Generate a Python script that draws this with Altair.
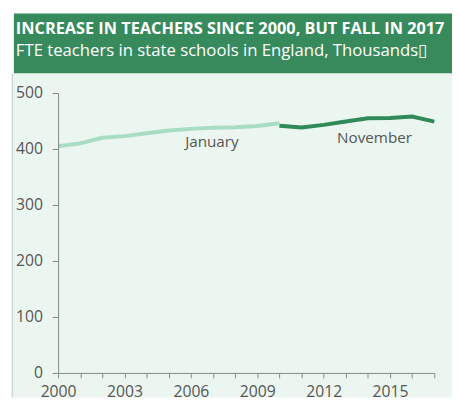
import altair as alt
import pandas as pd

jan_years = [2000, 2001, 2002, 2003, 2004, 2005, 2006, 2007, 2008, 2009, 2010]
jan_values = [405, 410, 420, 423, 428, 433, 436, 438, 439, 441, 446]
nov_years = [2010, 2011, 2012, 2013, 2014, 2015, 2016, 2017]
nov_values = [441.5, 438.5, 443, 449, 455, 455.5, 458, 449]

label_text = ["January", "November"]
label_x = [2006.95, 2014.3]
label_y = [403, 411.5]

x_ticks = list(range(2000, 2018))
y_ticks = [0, 100, 200, 300, 400, 500]

title_text = "INCREASE IN TEACHERS SINCE 2000, BUT FALL IN 2017"
subtitle_text = "FTE teachers in state schools in England, Thousands\u25AF"

LIGHT = "#a8dcc3"
DARK = "#2f8a58"
HEADER = "#378a5c"
BG = "#ecf6f1"
FONT = "Open Sans"

jan = pd.DataFrame({"year": jan_years, "value": jan_values, "series": "January"})
nov = pd.DataFrame({"year": nov_years, "value": nov_values, "series": "November"})
labels = pd.DataFrame({"text": label_text, "year": label_x, "value": label_y})
one = pd.DataFrame({"a": [0]})

xscale = alt.Scale(domain=[2000, 2017], nice=False, zero=False)
yscale = alt.Scale(domain=[0, 500], nice=False)

x_axis = alt.Axis(
    title=None, values=x_ticks,
    labelExpr="(datum.value - 2000) % 3 == 0 ? format(datum.value, 'd') : ''",
    grid=False, tickSize=5, labelPadding=6, labelFontSize=16, labelFont=FONT,
    labelColor="#555555", tickColor="#888888", domainColor="#888888",
    labelFlush=False, labelOverlap=False, zindex=1,
)
y_axis = alt.Axis(
    title=None, values=y_ticks, grid=False, tickSize=6,
    labelPadding=10, labelFontSize=16, labelFont=FONT, labelColor="#555555",
    tickColor="#888888", domainColor="#888888", zindex=1,
)


def xe():
    return alt.X("year:Q", scale=xscale, axis=x_axis)


def ye():
    return alt.Y("value:Q", scale=yscale, axis=y_axis)


bg = alt.Chart(one).mark_rect(color=BG, clip=False).encode(
    x=alt.value(-47), x2=alt.value(401), y=alt.value(-20), y2=alt.value(310)
)
border = alt.Chart(one).mark_rule(color="#cfd6d2", strokeWidth=1.5, clip=False).encode(
    x=alt.value(-46.5), y=alt.value(-20), y2=alt.value(310)
)
header = alt.Chart(one).mark_rect(color=HEADER, clip=False).encode(
    x=alt.value(-45), x2=alt.value(401), y=alt.value(-81), y2=alt.value(-20)
)
title = alt.Chart(one).mark_text(
    text=title_text, font=FONT, fontWeight="bold", fontSize=16.6, color="white",
    align="left", baseline="alphabetic", clip=False
).encode(x=alt.value(-43), y=alt.value(-60))
subtitle = alt.Chart(one).mark_text(
    text=subtitle_text, font=FONT, fontSize=17, color="white",
    align="left", baseline="alphabetic", clip=False
).encode(x=alt.value(-43), y=alt.value(-38))

line_jan = alt.Chart(jan).mark_line(color=LIGHT, strokeWidth=4).encode(x=xe(), y=ye())
line_nov = alt.Chart(nov).mark_line(color=DARK, strokeWidth=4).encode(x=xe(), y=ye())
text = alt.Chart(labels).mark_text(
    font=FONT, fontSize=15.5, color="#555555", align="center", baseline="alphabetic"
).encode(x=xe(), y=ye(), text="text:N")

chart = alt.layer(bg, border, header, title, subtitle, line_jan, line_nov, text).properties(
    width=383, height=285,
    autosize=alt.AutoSizeParams(type="none"),
    padding={"left": 51, "top": 83, "right": 18, "bottom": 25},
    background="white",
).configure_view(stroke=None)

chart.save("out.html", embed_options={"renderer": "svg", "actions": False})
